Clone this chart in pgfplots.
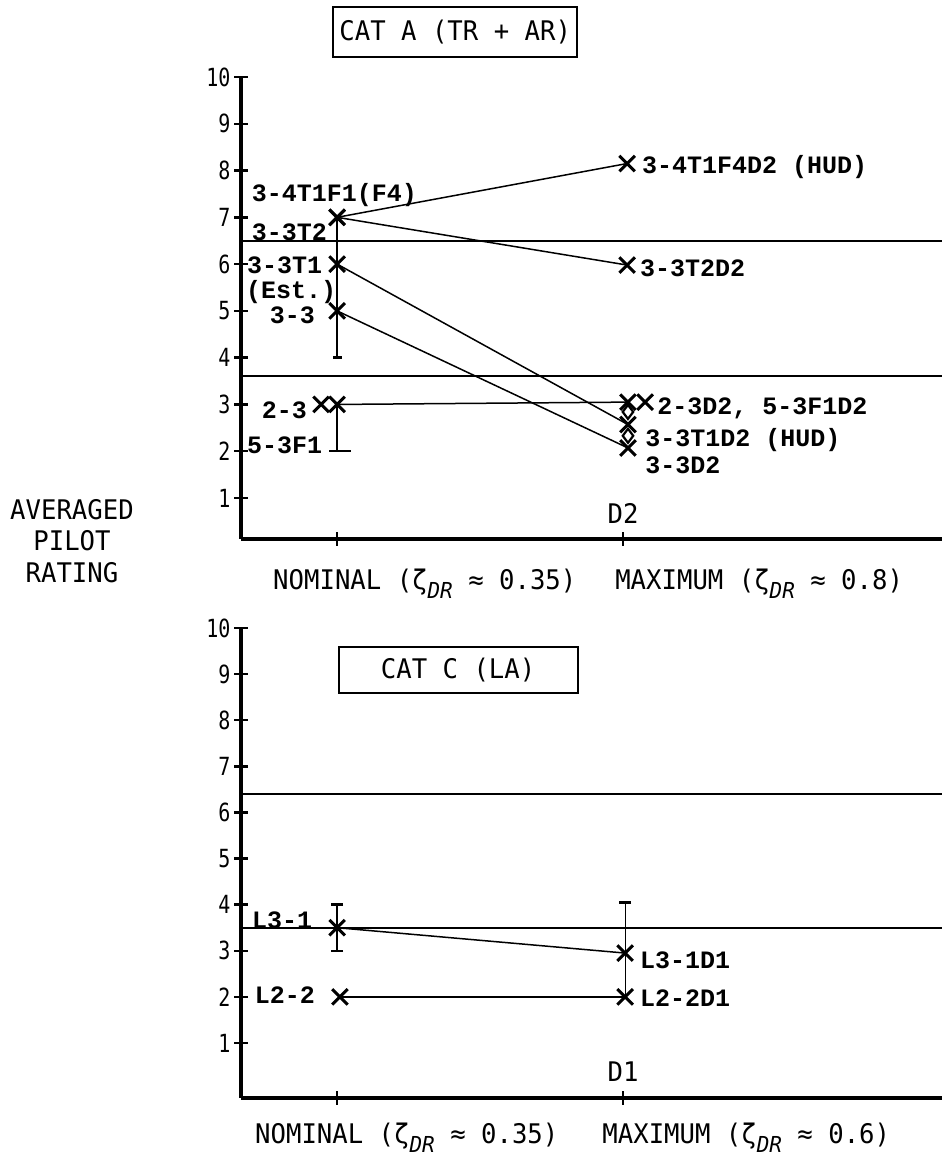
\documentclass[border=0pt]{standalone}
\usepackage{pgfplots}
\pgfplotsset{compat=1.18}
\usepackage{fontspec}
\newfontfamily\lab{DejaVu Sans Mono}[FakeStretch=0.95]
\newfontfamily\tlab{DejaVu Sans Mono}[FakeStretch=0.8]
\newfontfamily\mono{Liberation Mono}
\newcommand\labf{\lab\fontsize{27bp}{31.5bp}\selectfont}
\newcommand\tickf{\tlab\fontsize{25bp}{25bp}\selectfont}
\newcommand\monof{\mono\bfseries\fontsize{25bp}{25bp}\selectfont}
\newcommand\sub[1]{\raisebox{-0.35em}{\fontsize{22bp}{22bp}\selectfont\itshape #1}}
\tikzset{tx/.style={font=\monof, inner sep=0pt}}
\pgfplotsset{
 panel/.style={
  scale only axis, width=701bp, xmin=0.664, xmax=3.115, ymax=10,
  axis lines=left, axis line style={line width=3.5bp, -},
  xtick={1,2}, xticklabels={\relax,\relax}, ytick={1,2,3,4,5,6,7,8,9,10},
  tick align=center, major tick length=14bp, tick style={line width=2.5bp, black},
  yticklabel style={font=\tickf},
  /pgf/number format/assume math mode=true,
  clip=false,
 },
 dl/.style={black, line width=1.5bp, mark=x, mark size=11bp, mark options={line width=3bp}},
 ref/.style={black, line width=2bp, mark=none},
 vl/.style={black, line width=1.5bp, mark=none},
 cap/.style={only marks, mark=-, mark options={line width=2.5bp}},
}
\begin{document}
\begin{tikzpicture}
\useasboundingbox (0,0) rectangle (942bp,1162bp);
\node[font=\labf, align=center] at (72bp,621bp) {AVERAGED\\PILOT\\RATING};
% ---------------- top panel ----------------
\begin{axis}[panel, at={(241bp,623bp)}, anchor=south west, height=462bp, ymin=0.124]
\addplot[ref] coordinates {(0.664,6.5) (3.115,6.5)};
\addplot[ref] coordinates {(0.664,3.6) (3.115,3.6)};
\addplot[vl] coordinates {(1,7) (1,4)};
\addplot[vl] coordinates {(1,3) (1,2)};
\addplot[cap, mark size=4.5bp] coordinates {(1,4)};
\addplot[cap, mark size=11bp] coordinates {(1.01,2)};
\addplot[dl] coordinates {(1,7) (2.014,8.15)};
\addplot[dl] coordinates {(1,7) (2.014,5.98)};
\addplot[dl] coordinates {(1,6) (2.017,2.57)};
\addplot[dl] coordinates {(1,5) (2.017,2.07)};
\addplot[dl] coordinates {(1,3) (2.017,3.05)};
\addplot[dl, only marks] coordinates {(0.944,3) (2.077,3.05)};
\addplot[only marks, mark=diamond, mark size=7bp, mark options={line width=2.2bp, fill=white}] coordinates {(2.017,2.84) (2.017,2.33)};
\node[tx, anchor=east] at (axis cs:1.28,7.48) {3-4T1F1(F4)};
\node[tx, anchor=east] at (axis cs:0.965,6.69) {3-3T2};
\node[tx, anchor=east] at (axis cs:0.948,5.98) {3-3T1};
\node[tx, anchor=east] at (axis cs:0.997,5.40) {(Est.)};
\node[tx, anchor=east] at (axis cs:0.923,4.91) {3-3};
\node[tx, anchor=east] at (axis cs:0.895,2.88) {2-3};
\node[tx, anchor=east] at (axis cs:0.948,2.13) {5-3F1};
\node[tx, anchor=west] at (axis cs:2.066,8.08) {3-4T1F4D2 (HUD)};
\node[tx, anchor=west] at (axis cs:2.059,5.92) {3-3T2D2};
\node[tx, anchor=west] at (axis cs:2.119,2.92) {2-3D2, 5-3F1D2};
\node[tx, anchor=west] at (axis cs:2.077,2.24) {3-3T1D2 (HUD)};
\node[tx, anchor=west] at (axis cs:2.077,1.71) {3-3D2};
\node[font=\labf, inner sep=0pt] at (axis cs:2,0.68) {D2};
\node[draw, line width=2bp, minimum width=244bp, minimum height=50bp, font=\labf] at (axis cs:1.413,10.96) {CAT A (TR + AR)};
\node[anchor=base west, inner sep=0pt, font=\labf] at (axis cs:0.776,-0.945) {NOMINAL (ζ\sub{DR} ≈ 0.35)};
\node[anchor=base west, inner sep=0pt, font=\labf] at (axis cs:1.972,-0.945) {MAXIMUM (ζ\sub{DR} ≈ 0.8)};
\end{axis}
% ---------------- bottom panel ----------------
\begin{axis}[panel, at={(241bp,64bp)}, anchor=south west, height=470bp, ymin=-0.193]
\addplot[ref] coordinates {(0.664,6.4) (3.115,6.4)};
\addplot[ref] coordinates {(0.664,3.5) (3.115,3.5)};
\addplot[vl] coordinates {(1,3) (1,4)};
\addplot[cap, mark size=6bp] coordinates {(1,3) (1,4)};
\addplot[black, line width=1bp] coordinates {(2.007,4.05) (2.007,2.0)};
\addplot[cap, mark size=6bp] coordinates {(2.007,4.05)};
\addplot[dl] coordinates {(1,3.5) (2.007,2.95)};
\addplot[dl] coordinates {(1.01,2.0) (2.007,2.0)};
\node[tx, anchor=east] at (axis cs:0.913,3.67) {L3-1};
\node[tx, anchor=east] at (axis cs:0.923,2.04) {L2-2};
\node[tx, anchor=west] at (axis cs:2.059,2.80) {L3-1D1};
\node[tx, anchor=west] at (axis cs:2.059,1.98) {L2-2D1};
\node[font=\labf, inner sep=0pt] at (axis cs:2,0.37) {D1};
\node[draw, line width=2bp, minimum width=239bp, minimum height=46bp, font=\labf] at (axis cs:1.423,9.09) {CAT C (LA)};
\node[anchor=base west, inner sep=0pt, font=\labf] at (axis cs:0.713,-1.169) {NOMINAL (ζ\sub{DR} ≈ 0.35)};
\node[anchor=base west, inner sep=0pt, font=\labf] at (axis cs:1.927,-1.169) {MAXIMUM (ζ\sub{DR} ≈ 0.6)};
\end{axis}
\end{tikzpicture}
\end{document}
